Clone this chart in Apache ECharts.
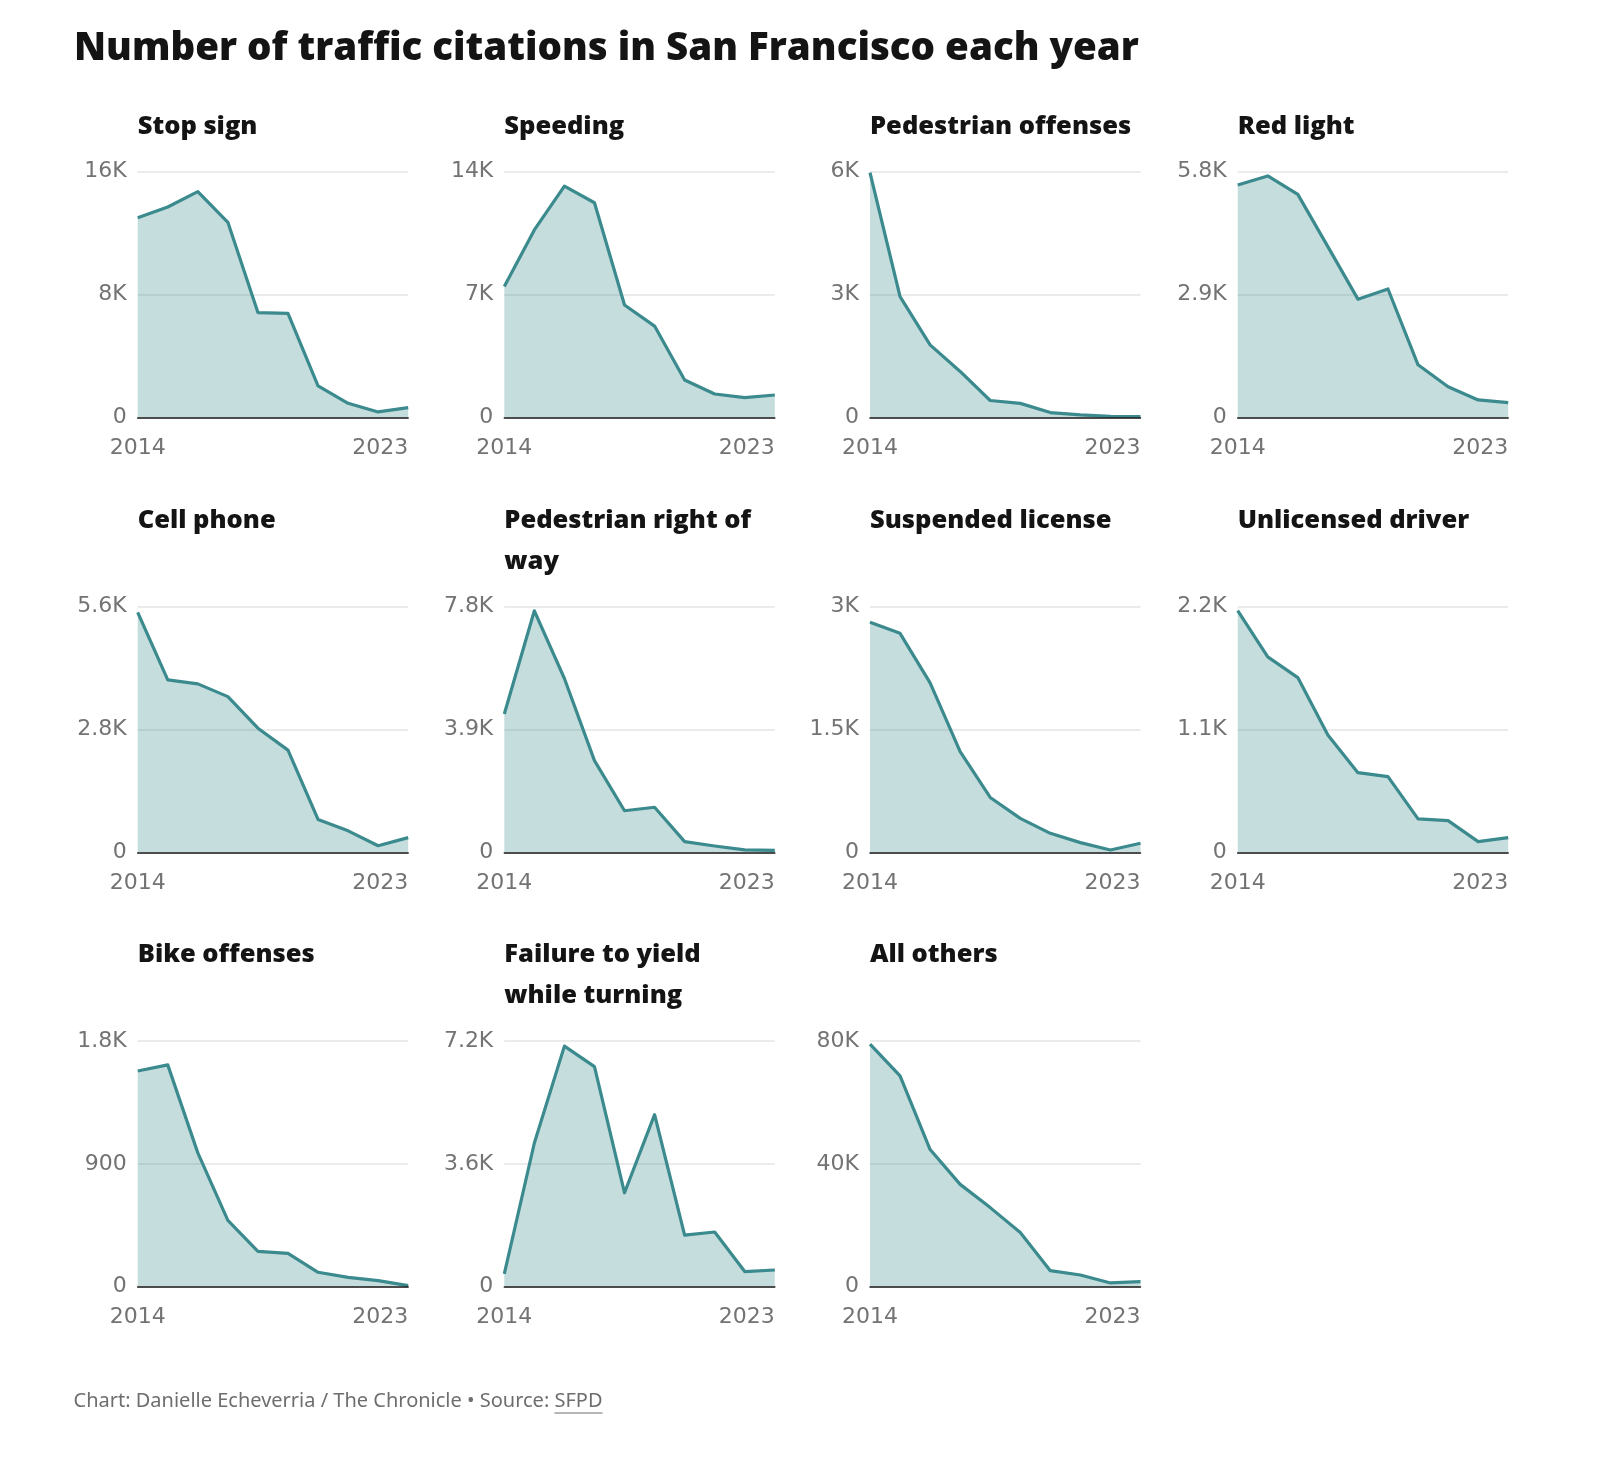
<!DOCTYPE html>
<html><head><meta charset="utf-8">
<script src="https://cdn.jsdelivr.net/npm/echarts@6/dist/echarts.min.js"></script>
<style>html,body{margin:0;padding:0;background:#fff}#c{width:1600px;height:1457px}</style>
</head><body><div id="c"></div>
<script>
// ---------------- data ----------------
const years = ['2014','2015','2016','2017','2018','2019','2020','2021','2022','2023'];
const panelTitles = ['Stop sign','Speeding','Pedestrian offenses','Red light','Cell phone','Pedestrian right of\nway','Suspended license','Unlicensed driver','Bike offenses','Failure to yield\nwhile turning','All others'];
const stopSign        = [13000,13700,14700,12700,6820,6770,2040,910,350,630];
const speeding        = [7450,10680,13180,12230,6400,5200,2130,1330,1120,1270];
const pedOffenses     = [5980,2950,1770,1120,410,340,115,57,25,20];
const redLight        = [5485,5700,5265,4030,2790,3030,1240,720,410,346];
const cellPhone       = [5470,3930,3840,3550,2830,2330,750,490,150,335];
const pedRightOfWay   = [4390,7670,5520,2910,1320,1430,340,200,75,64];
const suspended       = [2810,2675,2070,1230,670,415,232,118,28,110];
const unlicensed      = [2165,1750,1565,1050,713,678,300,284,96,131];
const bike            = [1580,1625,980,486,258,243,105,68,44,7];
const failureToYield  = [370,4210,7050,6450,2750,5040,1510,1600,440,486];
const allOthers       = [79000,68650,44650,33300,25730,17620,5190,3780,1190,1620];
const seriesData = [stopSign,speeding,pedOffenses,redLight,cellPhone,pedRightOfWay,suspended,unlicensed,bike,failureToYield,allOthers];
const yMax = [16000,14000,6000,5800,5600,7800,3000,2200,1800,7200,80000];
const yTickLabels = [['0','8K','16K'],['0','7K','14K'],['0','3K','6K'],['0','2.9K','5.8K'],['0','2.8K','5.6K'],['0','3.9K','7.8K'],['0','1.5K','3K'],['0','1.1K','2.2K'],['0','900','1.8K'],['0','3.6K','7.2K'],['0','40K','80K']];
const mainTitle = 'Number of traffic citations in San Francisco each year';
const footerText = 'Chart: Danielle Echeverria / The Chronicle \u2022 Source: ';
const footerLink = 'SFPD';

// ---------------- layout ----------------
const colLeft = [137.7, 504.3, 870, 1237.7];
const rowTop = [171.7, 606.7, 1041];
const plotW = 270.5, plotH = 245.6;
const titleTop = [106, 500.5, 934.5];
const LINE = '#3b8a8e';
const AREA = 'rgba(59,138,142,0.29)';
const TICKFONT = 'DejaVu Sans';
const TITLEFONT = '"Open Sans", sans-serif';

const grids = [], xAxes = [], yAxes = [], series = [], graphics = [];
seriesData.forEach((d, i) => {
  const r = Math.floor(i / 4), c = i % 4;
  grids.push({left: colLeft[c], top: rowTop[r], width: plotW, height: plotH, containLabel: false});
  xAxes.push({
    type: 'category', gridIndex: i, data: years, boundaryGap: false,
    axisLine: {show: true, onZero: true, lineStyle: {color: '#1a1a1a', width: 1.5}},
    axisTick: {show: false},
    axisLabel: {
      interval: (idx) => idx === 0 || idx === years.length - 1,
      color: '#737373', fontFamily: TICKFONT, fontSize: 22, margin: 20,
      alignMaxLabel: 'right', showMinLabel: true, showMaxLabel: true
    },
    splitLine: {show: false}, z: 5
  });
  const labels = yTickLabels[i];
  yAxes.push({
    type: 'value', gridIndex: i, min: 0, max: yMax[i], interval: yMax[i] / 2,
    axisLine: {show: false}, axisTick: {show: false},
    axisLabel: {color: '#737373', fontFamily: TICKFONT, fontSize: 22, margin: 11,
      formatter: (v, idx) => labels[idx] !== undefined ? labels[idx] : ''},
    splitLine: {show: true, lineStyle: {color: '#e4e4e4', width: 1.5}}
  });
  series.push({
    type: 'line', xAxisIndex: i, yAxisIndex: i, data: d,
    symbol: 'none', smooth: false, animation: false,
    lineStyle: {color: LINE, width: 3.2, join: 'round'},
    areaStyle: {color: AREA, opacity: 1, origin: 'start'}, z: 3
  });
  graphics.push({
    type: 'text', left: colLeft[c], top: titleTop[r],
    style: {text: panelTitles[i], font: '800 25.5px ' + TITLEFONT, fill: '#141414', lineHeight: 41}
  });
});

graphics.push({
  type: 'text', left: 74, top: 30,
  style: {text: mainTitle, font: '800 38.5px ' + TITLEFONT, fill: '#141414'}
});

// footer
const footFont = '400 20px "Noto Sans", sans-serif';
const cv = document.createElement('canvas').getContext('2d');
cv.font = footFont;
const wPre = cv.measureText(footerText).width;
const wLink = cv.measureText(footerLink).width;
const footX = 73.5, footY = 1391;
graphics.push({type: 'text', left: footX, top: footY, style: {text: footerText, font: footFont, fill: '#6e6e6e'}});
graphics.push({type: 'text', left: footX + wPre, top: footY, style: {text: footerLink, font: footFont, fill: '#6e6e6e'}});
graphics.push({type: 'line', shape: {x1: footX + wPre, y1: footY + 22, x2: footX + wPre + wLink, y2: footY + 22}, style: {stroke: '#6e6e6e', lineWidth: 1}});

const chart = echarts.init(document.getElementById('c'), null, {renderer: 'canvas'});
chart.setOption({
  backgroundColor: '#ffffff',
  animation: false,
  grid: grids, xAxis: xAxes, yAxis: yAxes, series: series,
  graphic: graphics
});
</script></body></html>
